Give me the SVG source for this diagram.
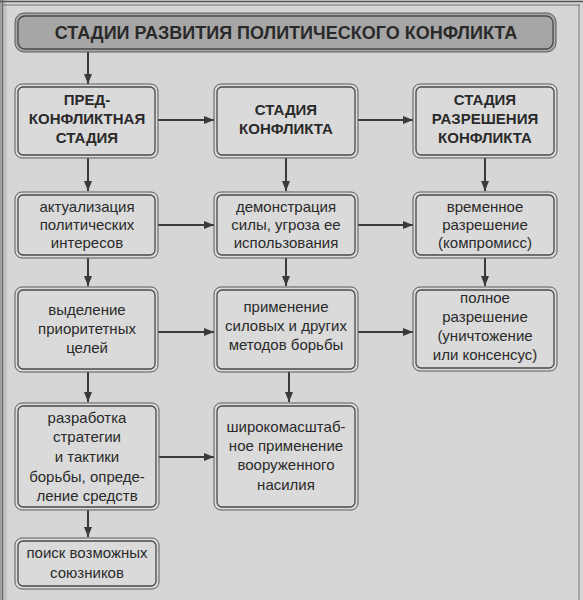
<svg xmlns="http://www.w3.org/2000/svg" width="583" height="600" viewBox="0 0 583 600">
<defs>
<marker id="ah" markerWidth="10" markerHeight="8" refX="10" refY="4" orient="auto" markerUnits="userSpaceOnUse">
<path d="M0,0 L10,4 L0,8 Z" fill="#3a3a3a"/>
</marker>
<linearGradient id="leftshade" x1="0" y1="0" x2="1" y2="0">
<stop offset="0" stop-color="#9a9a9a"/>
<stop offset="1" stop-color="#d6d6d6"/>
</linearGradient>
</defs>
<style>
.bg{fill:#d6d6d6}
.o{fill:#dadada;stroke:#5a5a5a;stroke-width:1}
.i{fill:none;stroke:#4a4a4a;stroke-width:1.3}
.to{fill:#a6a6a6;stroke:#5a5a5a;stroke-width:1}
.ti{fill:none;stroke:#4a4a4a;stroke-width:1.3}
.t{font-family:"Liberation Sans",Arial,sans-serif;font-size:15px;fill:#2a2a2a;text-anchor:middle}
.h{font-family:"Liberation Sans",Arial,sans-serif;font-size:15px;font-weight:bold;fill:#2a2a2a;text-anchor:middle}
.tt{font-family:"Liberation Sans",Arial,sans-serif;font-size:18px;font-weight:bold;fill:#2a2a2a;text-anchor:middle}
.c{stroke:#3a3a3a;stroke-width:2;fill:none}
</style>
<rect class="bg" x="0" y="0" width="583" height="600"/>
<rect x="0" y="0" width="8" height="600" fill="url(#leftshade)"/>
<line x1="0" y1="1.5" x2="583" y2="1.5" stroke="#555" stroke-width="1.5"/>
<line x1="3" y1="5" x2="580" y2="5" stroke="#777" stroke-width="1"/>
<line x1="2.5" y1="0" x2="2.5" y2="600" stroke="#666" stroke-width="1"/>
<line x1="579" y1="4" x2="579" y2="600" stroke="#777" stroke-width="1"/>

<g id="connectors">
<line class="c" x1="88" y1="52" x2="88" y2="84" marker-end="url(#ah)"/>
<line class="c" x1="158" y1="120" x2="214" y2="120" marker-end="url(#ah)"/>
<line class="c" x1="358" y1="120" x2="413" y2="120" marker-end="url(#ah)"/>
<line class="c" x1="88" y1="158" x2="88" y2="191" marker-end="url(#ah)"/>
<line class="c" x1="286" y1="158" x2="286" y2="191" marker-end="url(#ah)"/>
<line class="c" x1="485" y1="158" x2="485" y2="191" marker-end="url(#ah)"/>
<line class="c" x1="158" y1="225" x2="214" y2="225" marker-end="url(#ah)"/>
<line class="c" x1="358" y1="225" x2="413" y2="225" marker-end="url(#ah)"/>
<line class="c" x1="88" y1="258" x2="88" y2="286" marker-end="url(#ah)"/>
<line class="c" x1="286" y1="258" x2="286" y2="286" marker-end="url(#ah)"/>
<line class="c" x1="485" y1="258" x2="485" y2="286" marker-end="url(#ah)"/>
<line class="c" x1="158" y1="332" x2="214" y2="332" marker-end="url(#ah)"/>
<line class="c" x1="358" y1="332" x2="413" y2="332" marker-end="url(#ah)"/>
<line class="c" x1="88" y1="372" x2="88" y2="402" marker-end="url(#ah)"/>
<line class="c" x1="289" y1="372" x2="289" y2="402" marker-end="url(#ah)"/>
<line class="c" x1="159" y1="457" x2="214" y2="457" marker-end="url(#ah)"/>
<line class="c" x1="88" y1="510" x2="88" y2="537" marker-end="url(#ah)"/>
</g>

<g id="title">
<rect class="to" x="15" y="13" width="541" height="39" rx="9"/>
<rect class="ti" x="18" y="16" width="535" height="33" rx="7"/>
<text class="tt" x="286" y="39">СТАДИИ РАЗВИТИЯ ПОЛИТИЧЕСКОГО КОНФЛИКТА</text>
</g>

<g id="n-pre">
<rect class="o" x="15" y="84" width="143" height="74" rx="7"/>
<rect class="i" x="18" y="87" width="137" height="68" rx="5"/>
<text class="h" x="87" y="105">ПРЕД-</text>
<text class="h" x="87" y="124">КОНФЛИКТНАЯ</text>
<text class="h" x="87" y="143">СТАДИЯ</text>
</g>
<g id="n-stage">
<rect class="o" x="214" y="84" width="144" height="74" rx="7"/>
<rect class="i" x="217" y="87" width="138" height="68" rx="5"/>
<text class="h" x="286" y="115">СТАДИЯ</text>
<text class="h" x="286" y="134">КОНФЛИКТА</text>
</g>
<g id="n-resol">
<rect class="o" x="413" y="84" width="144" height="74" rx="7"/>
<rect class="i" x="416" y="87" width="138" height="68" rx="5"/>
<text class="h" x="485" y="105">СТАДИЯ</text>
<text class="h" x="485" y="124">РАЗРЕШЕНИЯ</text>
<text class="h" x="485" y="143">КОНФЛИКТА</text>
</g>

<g id="n-actual">
<rect class="o" x="15" y="192" width="143" height="66" rx="7"/>
<rect class="i" x="18" y="195" width="137" height="60" rx="5"/>
<text class="t" x="87" y="212">актуализация</text>
<text class="t" x="87" y="230">политических</text>
<text class="t" x="87" y="248">интересов</text>
</g>
<g id="n-demo">
<rect class="o" x="214" y="192" width="144" height="66" rx="7"/>
<rect class="i" x="217" y="195" width="138" height="60" rx="5"/>
<text class="t" x="286" y="212">демонстрация</text>
<text class="t" x="286" y="230">силы, угроза ее</text>
<text class="t" x="286" y="248">использования</text>
</g>
<g id="n-temp">
<rect class="o" x="413" y="192" width="144" height="66" rx="7"/>
<rect class="i" x="416" y="195" width="138" height="60" rx="5"/>
<text class="t" x="485" y="212">временное</text>
<text class="t" x="485" y="230">разрешение</text>
<text class="t" x="485" y="248">(компромисс)</text>
</g>

<g id="n-prior">
<rect class="o" x="15" y="287" width="143" height="85" rx="7"/>
<rect class="i" x="18" y="290" width="137" height="79" rx="5"/>
<text class="t" x="87" y="315">выделение</text>
<text class="t" x="87" y="334">приоритетных</text>
<text class="t" x="87" y="353">целей</text>
</g>
<g id="n-force">
<rect class="o" x="214" y="287" width="144" height="85" rx="7"/>
<rect class="i" x="217" y="290" width="138" height="79" rx="5"/>
<text class="t" x="286" y="312">применение</text>
<text class="t" x="286" y="331">силовых  и других</text>
<text class="t" x="286" y="350">методов борьбы</text>
</g>
<g id="n-full">
<rect class="o" x="413" y="287" width="144" height="84" rx="7"/>
<rect class="i" x="416" y="290" width="138" height="78" rx="5"/>
<text class="t" x="485" y="303">полное</text>
<text class="t" x="485" y="322">разрешение</text>
<text class="t" x="485" y="341">(уничтожение</text>
<text class="t" x="485" y="360">или консенсус)</text>
</g>

<g id="n-strat">
<rect class="o" x="15" y="403" width="144" height="107" rx="7"/>
<rect class="i" x="18" y="406" width="138" height="101" rx="5"/>
<text class="t" x="87" y="423">разработка</text>
<text class="t" x="87" y="442">стратегии</text>
<text class="t" x="87" y="462">и тактики</text>
<text class="t" x="87" y="482">борьбы, опреде-</text>
<text class="t" x="87" y="501">ление  средств</text>
</g>
<g id="n-war">
<rect class="o" x="214" y="403" width="144" height="107" rx="7"/>
<rect class="i" x="217" y="406" width="138" height="101" rx="5"/>
<text class="t" x="286" y="432">широкомасштаб-</text>
<text class="t" x="286" y="451">ное применение</text>
<text class="t" x="286" y="470">вооруженного</text>
<text class="t" x="286" y="490">насилия</text>
</g>

<g id="n-allies">
<rect class="o" x="15" y="538" width="144" height="51" rx="7"/>
<rect class="i" x="18" y="541" width="138" height="45" rx="5"/>
<text class="t" x="87" y="558">поиск возможных</text>
<text class="t" x="87" y="578">союзников</text>
</g>
</svg>
